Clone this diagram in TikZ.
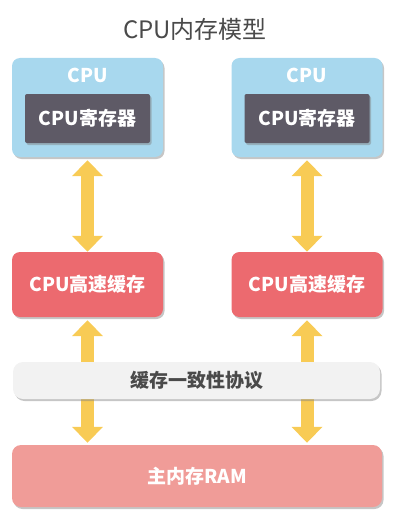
\documentclass[tikz,border=0pt]{standalone}
\usepackage{fontspec}
\setmainfont{Noto Sans CJK SC}
\usetikzlibrary{arrows.meta,shadows}
\definecolor{cpublue}{HTML}{A8D8EE}
\definecolor{regdark}{HTML}{5E5A66}
\definecolor{cachered}{HTML}{EC6A6F}
\definecolor{ramred}{HTML}{F09C98}
\definecolor{barfill}{HTML}{F2F2F2}
\definecolor{arrowyellow}{HTML}{F8CB55}
\definecolor{titlegray}{HTML}{4A4A4A}
\definecolor{bartext}{HTML}{4A4A4A}
\tikzset{
  shade/.style={drop shadow={shadow xshift=1.5pt,shadow yshift=-2pt,opacity=0.45,fill=black!50}},
  lbl/.style={font=\bfseries\fontsize{19}{22}\selectfont},
  cpubox/.style={fill=cpublue,rounded corners=8pt,minimum width=151pt,minimum height=99pt,shade},
  regbox/.style={fill=regdark,rounded corners=2pt,minimum width=125pt,minimum height=49pt,text=white,lbl,shade},
  cachebox/.style={fill=cachered,rounded corners=8pt,minimum width=151pt,minimum height=65pt,text=white,lbl,shade},
  rambox/.style={fill=ramred,rounded corners=9pt,minimum width=370pt,minimum height=62pt,text=white,lbl,shade},
  barbox/.style={fill=barfill,rounded corners=10pt,minimum width=367pt,minimum height=37pt,text=bartext,lbl,shade},
  cpulabel/.style={text=white,lbl},
  titletext/.style={text=titlegray,font=\fontsize{24}{28}\selectfont},
  dblarrow/.style={draw=arrowyellow,line width=13pt,{Triangle[width=30pt,length=16pt]}-{Triangle[width=30pt,length=16pt]}},
}
\begin{document}
\begin{tikzpicture}[x=1pt,y=-1pt]
\useasboundingbox (0,0) rectangle (404,519);
\node[titletext] (title) at (195,29) {CPU内存模型};
% CPU boxes
\node[cpubox] (cpuA) at (87.5,107.5) {};
\node[cpubox] (cpuB) at (307,107.5) {};
\node[cpulabel] (cpuAl) at (87.5,75) {CPU};
\node[cpulabel] (cpuBl) at (307,75) {CPU};
\node[regbox] (regA) at (87.5,118.5) {CPU寄存器};
\node[regbox] (regB) at (307,118.5) {CPU寄存器};
% caches
\node[cachebox] (cacheA) at (87.5,284.5) {CPU高速缓存};
\node[cachebox] (cacheB) at (307,284.5) {CPU高速缓存};
% RAM
\node[rambox] (ram) at (197,476) {主内存RAM};
% arrows
\draw[dblarrow,shorten <=3pt] (cpuA.south) -- (cacheA.north);
\draw[dblarrow,shorten <=3pt] (cpuB.south) -- (cacheB.north);
\draw[dblarrow,shorten <=3pt,shorten >=2pt] (cacheA.south) -- (cacheA.south |- ram.north);
\draw[dblarrow,shorten <=3pt,shorten >=2pt] (cacheB.south) -- (cacheB.south |- ram.north);
% coherence bar
\node[barbox] (bar) at (196.5,380.5) {缓存一致性协议};
\end{tikzpicture}
\end{document}
